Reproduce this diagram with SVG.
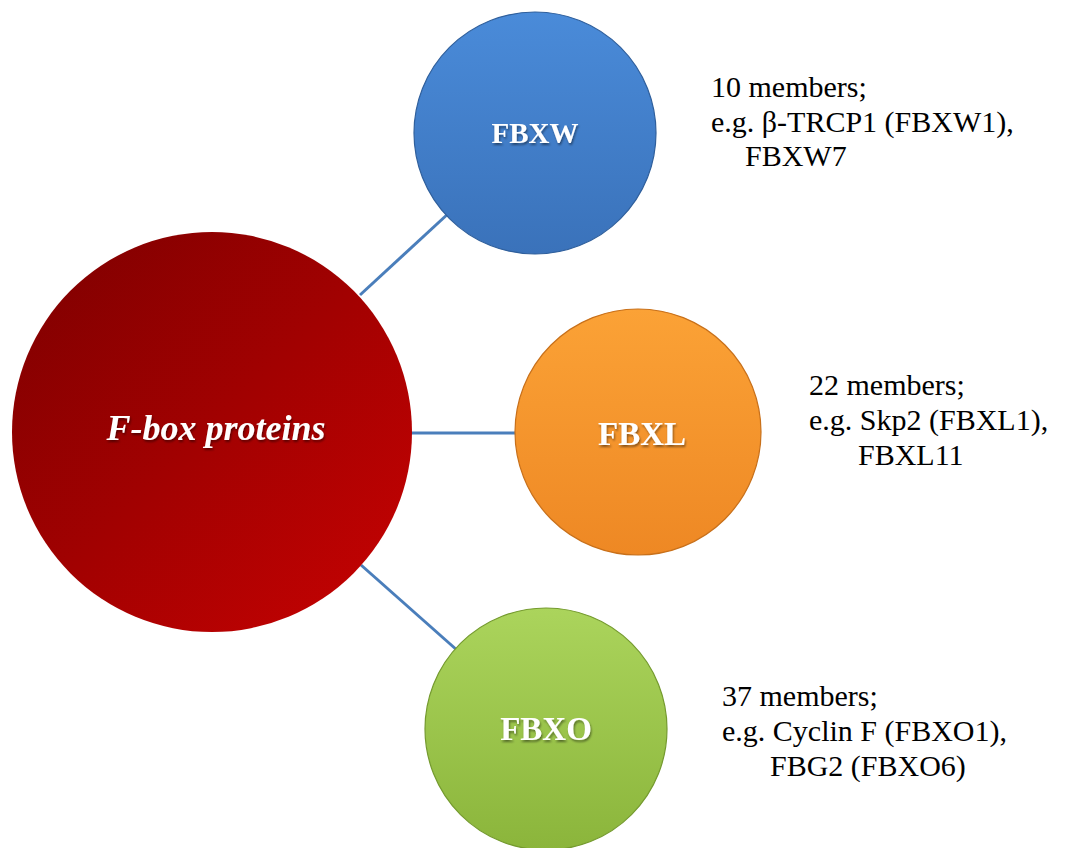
<svg xmlns="http://www.w3.org/2000/svg" width="1078" height="848" viewBox="0 0 1078 848">
<defs>
<linearGradient id="gRed" x1="0" y1="0" x2="1" y2="1">
<stop offset="0" stop-color="#7c0000"/>
<stop offset="1" stop-color="#c80202"/>
</linearGradient>
<linearGradient id="gBlue" x1="0" y1="0" x2="0" y2="1">
<stop offset="0" stop-color="#4a8bd9"/>
<stop offset="1" stop-color="#3a72ba"/>
</linearGradient>
<linearGradient id="gOrange" x1="0" y1="0" x2="0" y2="1">
<stop offset="0" stop-color="#fba236"/>
<stop offset="1" stop-color="#ee8824"/>
</linearGradient>
<linearGradient id="gGreen" x1="0" y1="0" x2="0" y2="1">
<stop offset="0" stop-color="#abd45c"/>
<stop offset="1" stop-color="#8bb53b"/>
</linearGradient>
<filter id="ts" x="-10%" y="-20%" width="130%" height="150%">
<feDropShadow dx="1" dy="2" stdDeviation="1" flood-color="#000" flood-opacity="0.45"/>
</filter>
</defs>
<style>
.conn{stroke:#4a7ebb;stroke-width:3;fill:none}
.lbl{font-family:"Liberation Serif",serif;font-weight:bold;fill:#ffffff;text-anchor:middle}
.desc{font-family:"Liberation Serif",serif;font-size:30px;fill:#000}
</style>
<rect width="1078" height="848" fill="#ffffff"/>
<g id="connectors">
<line class="conn" x1="360" y1="295" x2="450" y2="212"/>
<line class="conn" x1="410" y1="433" x2="518" y2="433"/>
<line class="conn" x1="361" y1="565" x2="458" y2="651"/>
</g>
<g id="node-fbox">
<circle cx="212" cy="432" r="200" fill="url(#gRed)"/>
<text class="lbl" x="216" y="440" font-size="36" font-style="italic" filter="url(#ts)">F-box proteins</text>
</g>
<g id="node-fbxw">
<circle cx="535" cy="133" r="121" fill="url(#gBlue)" stroke="#2f5f9c" stroke-width="1.2"/>
<text class="lbl" x="535" y="143" font-size="29" filter="url(#ts)">FBXW</text>
</g>
<g id="node-fbxl">
<circle cx="638" cy="432" r="123" fill="url(#gOrange)" stroke="#c8701a" stroke-width="1.2"/>
<text class="lbl" x="642" y="445" font-size="33" filter="url(#ts)">FBXL</text>
</g>
<g id="node-fbxo">
<circle cx="546" cy="729" r="121" fill="url(#gGreen)" stroke="#749a2e" stroke-width="1.2"/>
<text class="lbl" x="546" y="740" font-size="33" filter="url(#ts)">FBXO</text>
</g>
<g id="desc-fbxw">
<text class="desc" x="711" y="97">10 members;</text>
<text class="desc" x="711" y="132">e.g. β-TRCP1 (FBXW1),</text>
<text class="desc" x="745" y="166">FBXW7</text>
</g>
<g id="desc-fbxl">
<text class="desc" x="809" y="395">22 members;</text>
<text class="desc" x="809" y="430">e.g. Skp2 (FBXL1),</text>
<text class="desc" x="858" y="465">FBXL11</text>
</g>
<g id="desc-fbxo">
<text class="desc" x="722" y="706">37 members;</text>
<text class="desc" x="722" y="741">e.g. Cyclin F (FBXO1),</text>
<text class="desc" x="770" y="776">FBG2 (FBXO6)</text>
</g>
</svg>
